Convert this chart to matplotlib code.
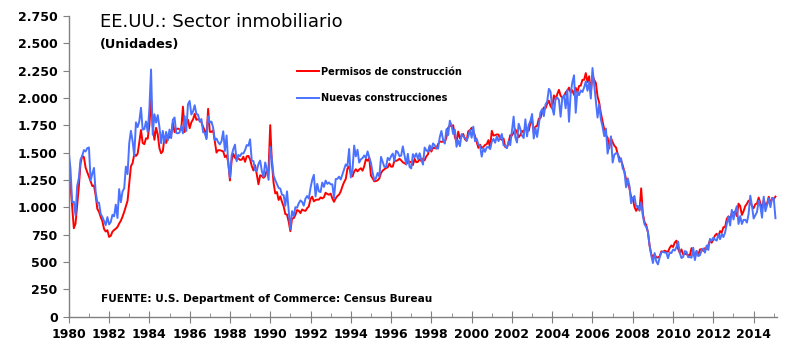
import matplotlib.pyplot as plt
import matplotlib.ticker as mticker
import numpy as np

# Datos mensuales (miles de unidades, tasa anual desestacionalizada), ene-1980 a feb-2015
permisos = [
    1274, 1201, 1003, 808, 850, 1016, 1193, 1401, 1470, 1459, 1364, 1320,   # 1980
    1281, 1238, 1194, 1199, 1109, 985, 958, 911, 873, 802, 778, 790,        # 1981
    729, 739, 777, 792, 804, 820, 851, 877, 914, 958, 1010, 1059,           # 1982
    1217, 1375, 1404, 1485, 1469, 1490, 1593, 1706, 1588, 1577, 1631, 1627, # 1983
    1747, 1990, 1741, 1617, 1727, 1666, 1539, 1494, 1512, 1638, 1588, 1641, # 1984
    1638, 1667, 1775, 1687, 1714, 1720, 1712, 1712, 1920, 1688, 1764, 1800, # 1985
    1723, 1777, 1803, 1855, 1800, 1805, 1798, 1778, 1736, 1702, 1634, 1900, # 1986
    1690, 1689, 1704, 1601, 1500, 1522, 1522, 1516, 1511, 1459, 1475, 1413, # 1987
    1245, 1426, 1489, 1453, 1438, 1448, 1433, 1435, 1462, 1416, 1466, 1470, # 1988
    1438, 1377, 1337, 1384, 1300, 1210, 1293, 1287, 1269, 1286, 1344, 1341, # 1989
    1751, 1405, 1223, 1127, 1139, 1067, 1099, 1049, 1008, 938, 933, 869,    # 1990
    781, 898, 900, 930, 975, 968, 947, 980, 971, 967, 992, 1008,            # 1991
    1076, 1097, 1054, 1067, 1070, 1070, 1090, 1081, 1091, 1133, 1121, 1115, # 1992
    1125, 1080, 1050, 1081, 1103, 1115, 1145, 1191, 1230, 1259, 1353, 1374, # 1993
    1306, 1282, 1326, 1348, 1328, 1345, 1357, 1335, 1375, 1440, 1425, 1453, # 1994
    1290, 1265, 1237, 1240, 1247, 1264, 1313, 1336, 1347, 1359, 1365, 1400, # 1995
    1371, 1372, 1427, 1424, 1431, 1444, 1429, 1411, 1403, 1392, 1416, 1418, # 1996
    1411, 1386, 1443, 1412, 1416, 1440, 1423, 1445, 1429, 1466, 1484, 1555, # 1997
    1509, 1546, 1541, 1538, 1578, 1601, 1599, 1600, 1595, 1641, 1727, 1748, # 1998
    1741, 1750, 1643, 1600, 1692, 1629, 1652, 1670, 1622, 1608, 1696, 1704, # 1999
    1727, 1692, 1651, 1597, 1543, 1572, 1542, 1552, 1570, 1577, 1614, 1542, # 2000
    1699, 1656, 1659, 1666, 1665, 1626, 1617, 1629, 1552, 1546, 1591, 1660, # 2001
    1656, 1681, 1713, 1686, 1640, 1661, 1699, 1685, 1729, 1723, 1699, 1768, # 2002
    1808, 1681, 1738, 1744, 1809, 1815, 1873, 1913, 1904, 1947, 1975, 1925, # 2003
    1904, 2023, 1986, 2034, 2074, 2020, 2002, 2006, 2051, 2066, 2094, 2049, # 2004
    2070, 2028, 2093, 2050, 2109, 2113, 2165, 2165, 2227, 2145, 2198, 2051, # 2005
    2209, 2164, 2137, 2014, 1955, 1860, 1786, 1711, 1658, 1638, 1540, 1633, # 2006
    1596, 1563, 1547, 1487, 1454, 1429, 1384, 1325, 1255, 1220, 1177, 1093, # 2007
    1082, 1004, 967, 996, 970, 1173, 942, 863, 839, 774, 651, 570,          # 2008
    546, 568, 542, 541, 551, 597, 593, 603, 595, 594, 629, 651,             # 2009
    637, 677, 695, 620, 584, 615, 568, 577, 570, 564, 560, 627,             # 2010
    585, 543, 600, 560, 614, 617, 601, 626, 617, 653, 701, 676,             # 2011
    705, 742, 758, 732, 782, 770, 818, 818, 894, 917, 900, 946,             # 2012
    953, 959, 919, 1033, 1011, 930, 964, 1011, 1032, 1061, 1045, 1011,      # 2013
    992, 1028, 1034, 1089, 1039, 983, 1067, 1018, 1034, 1096, 1031, 1084,   # 2014
    1074, 1098,                                                             # 2015
]

nuevas = [
    1500, 1350, 1047, 1051, 927, 1196, 1269, 1436, 1471, 1523, 1510, 1540,  # 1980
    1547, 1246, 1306, 1360, 1140, 1045, 1041, 940, 911, 873, 837, 910,      # 1981
    843, 866, 931, 917, 1025, 902, 1166, 1046, 1144, 1173, 1372, 1303,      # 1982
    1586, 1699, 1606, 1472, 1776, 1733, 1785, 1910, 1710, 1715, 1785, 1688, # 1983
    1897, 2260, 1663, 1851, 1774, 1843, 1732, 1586, 1698, 1590, 1689, 1612, # 1984
    1711, 1632, 1800, 1821, 1680, 1676, 1684, 1743, 1676, 1834, 1698, 1942, # 1985
    1972, 1848, 1876, 1933, 1854, 1847, 1782, 1807, 1687, 1681, 1623, 1833, # 1986
    1774, 1784, 1726, 1614, 1628, 1594, 1575, 1605, 1695, 1515, 1656, 1400, # 1987
    1271, 1473, 1532, 1573, 1421, 1478, 1467, 1493, 1492, 1522, 1569, 1563, # 1988
    1621, 1425, 1422, 1339, 1331, 1397, 1427, 1332, 1279, 1410, 1351, 1251, # 1989
    1551, 1437, 1289, 1248, 1212, 1177, 1171, 1115, 1110, 1014, 1145, 969,  # 1990
    798, 965, 921, 1001, 996, 1036, 1063, 1049, 1015, 1079, 1103, 1079,     # 1991
    1176, 1250, 1297, 1099, 1214, 1145, 1139, 1226, 1186, 1244, 1214, 1227, # 1992
    1210, 1210, 1083, 1258, 1260, 1280, 1254, 1300, 1343, 1392, 1376, 1533, # 1993
    1272, 1337, 1564, 1465, 1526, 1409, 1439, 1450, 1474, 1450, 1511, 1455, # 1994
    1407, 1316, 1249, 1267, 1314, 1281, 1461, 1416, 1369, 1369, 1452, 1431, # 1995
    1467, 1491, 1424, 1516, 1504, 1467, 1472, 1557, 1475, 1392, 1489, 1370, # 1996
    1355, 1486, 1457, 1492, 1442, 1494, 1437, 1390, 1546, 1520, 1510, 1566, # 1997
    1525, 1584, 1567, 1540, 1536, 1641, 1698, 1614, 1582, 1715, 1660, 1792, # 1998
    1748, 1670, 1710, 1553, 1611, 1559, 1669, 1648, 1635, 1608, 1648, 1708, # 1999
    1636, 1737, 1604, 1626, 1575, 1559, 1463, 1541, 1507, 1549, 1551, 1532, # 2000
    1600, 1625, 1590, 1649, 1605, 1636, 1670, 1567, 1562, 1540, 1602, 1568, # 2001
    1698, 1829, 1642, 1592, 1764, 1717, 1655, 1633, 1804, 1648, 1753, 1788, # 2002
    1853, 1629, 1726, 1643, 1751, 1867, 1897, 1833, 1939, 1967, 2083, 2057, # 2003
    1911, 1846, 1998, 2003, 1981, 1828, 2002, 2024, 1905, 2072, 1782, 2042, # 2004
    2144, 2207, 1864, 2061, 2025, 2068, 2054, 2095, 2151, 2065, 2147, 1994, # 2005
    2273, 2119, 1969, 1821, 1942, 1802, 1737, 1650, 1720, 1491, 1570, 1649, # 2006
    1409, 1480, 1495, 1490, 1415, 1448, 1354, 1330, 1183, 1264, 1197, 1037, # 2007
    1084, 1103, 1005, 1013, 973, 1046, 923, 844, 820, 777, 652, 560,        # 2008
    490, 582, 505, 478, 540, 585, 594, 586, 585, 534, 588, 581,             # 2009
    614, 604, 636, 687, 583, 536, 546, 599, 594, 543, 545, 539,             # 2010
    630, 517, 600, 554, 561, 608, 623, 585, 650, 610, 711, 694,             # 2011
    723, 704, 695, 753, 708, 757, 728, 770, 847, 915, 833, 976,             # 2012
    888, 962, 1010, 847, 919, 847, 885, 885, 860, 940, 1106, 1015,          # 2013
    897, 928, 957, 1061, 1008, 905, 1097, 963, 1020, 1081, 1001, 1086,      # 2014
    1081, 900,                                                              # 2015
]

anio_inicio = 1980
fechas = anio_inicio + np.arange(len(nuevas)) / 12.0

fig = plt.figure(figsize=(8, 3.53), dpi=100)
ax = fig.add_axes([0.086, 0.103, 0.885, 0.852])

ax.plot(fechas, permisos, color='#FF0000', lw=1.4, label='Permisos de construcción')
ax.plot(fechas, nuevas, color='#4A72FF', lw=1.4, label='Nuevas construcciones')

ax.set_xlim(1980, 2015.15)
ax.set_ylim(0, 2750)

ax.yaxis.set_major_locator(mticker.MultipleLocator(250))
ax.yaxis.set_major_formatter(mticker.FuncFormatter(lambda v, p: f'{int(v):,}'.replace(',', '.')))
ax.xaxis.set_major_locator(mticker.MultipleLocator(2))
ax.xaxis.set_minor_locator(mticker.MultipleLocator(1))
ax.xaxis.set_major_formatter(mticker.FuncFormatter(lambda v, p: f'{int(v)}'))

for s in ['top', 'right']:
    ax.spines[s].set_visible(False)
for s in ['left', 'bottom']:
    ax.spines[s].set_color('#808080')
    ax.spines[s].set_linewidth(1.0)

ax.tick_params(axis='y', length=4, color='#808080', labelsize=9, pad=4)
ax.tick_params(axis='x', which='major', direction='inout', length=9, color='#808080',
               labelsize=9, pad=4)
ax.tick_params(axis='x', which='minor', direction='in', length=3, color='#808080')
for lbl in ax.get_xticklabels() + ax.get_yticklabels():
    lbl.set_fontweight('bold')

ax.text(0.044, 1.01, 'EE.UU.: Sector inmobiliario', transform=ax.transAxes,
        fontsize=13, va='top', ha='left')
ax.text(0.044, 0.925, '(Unidades)', transform=ax.transAxes,
        fontsize=9.3, fontweight='bold', va='top', ha='left')
ax.text(0.045, 0.06, 'FUENTE: U.S. Department of Commerce: Census Bureau',
        transform=ax.transAxes, fontsize=7.6, fontweight='bold', va='center', ha='left')

leg = ax.legend(loc='upper left', bbox_to_anchor=(0.31, 0.86), frameon=False,
                prop={'size': 7, 'weight': 'bold'}, handlelength=2.3, handletextpad=0.2,
                labelspacing=1.7)

fig.savefig('out.png', dpi=100)
